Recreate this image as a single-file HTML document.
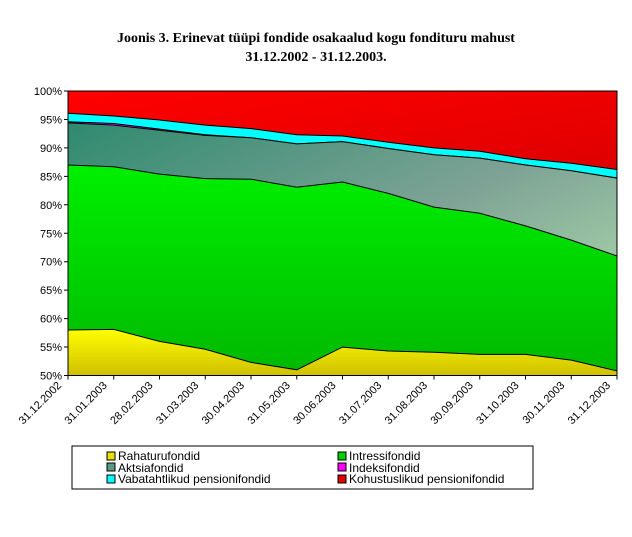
<!DOCTYPE html><html><head><style>body{margin:0;background:#fff}svg{display:block}</style></head><body>
<svg width="632" height="537" xmlns="http://www.w3.org/2000/svg">
<defs>
<linearGradient id="gr" x1="0" y1="0" x2="0.3" y2="1"><stop offset="0" stop-color="#ff0000"/><stop offset="1" stop-color="#c00000"/></linearGradient>
<linearGradient id="gg" x1="0" y1="0" x2="1" y2="1"><stop offset="0" stop-color="#2e8a6e"/><stop offset="0.5" stop-color="#7ea396"/><stop offset="1" stop-color="#b8e8b0"/></linearGradient>
<linearGradient id="gn" x1="0" y1="0" x2="0" y2="1"><stop offset="0" stop-color="#00f000"/><stop offset="1" stop-color="#00b800"/></linearGradient>
<linearGradient id="gy" x1="0" y1="0" x2="0" y2="1"><stop offset="0" stop-color="#ffff00"/><stop offset="1" stop-color="#d0c000"/></linearGradient>
</defs>
<g font-family="Liberation Serif, serif" font-weight="bold" font-size="14" text-anchor="middle">
<text x="316" y="42">Joonis 3. Erinevat tüüpi fondide osakaalud kogu fondituru mahust</text>
<text x="316" y="61">31.12.2002 - 31.12.2003.</text></g>
<g stroke="#000" stroke-width="1">
<rect x="68" y="91" width="549" height="284.5" fill="url(#gr)"/>
<polygon fill="#00ffff" points="68,113.2 113.75,116 159.5,120 205.25,125.1 251,128.6 296.75,134.8 342.5,136 388.25,142.2 434,147.9 479.75,151.3 525.5,158.7 571.25,163.3 617,169.5 617,375.5 68,375.5"/>
<polygon fill="#ff00ff" points="68,121.7 113.75,123.5 159.5,129.1 205.25,134.8 251,137.7 296.75,143.9 342.5,141.6 388.25,148.5 434,154.7 479.75,158.1 525.5,165 571.25,170.7 617,178.1 617,375.5 68,375.5"/>
<polygon fill="url(#gg)" points="68,122.9 113.75,125.1 159.5,130.3 205.25,135.4 251,137.7 296.75,143.9 342.5,141.6 388.25,148.5 434,154.7 479.75,158.1 525.5,165 571.25,170.7 617,178.1 617,375.5 68,375.5"/>
<polygon fill="url(#gn)" points="68,165 113.75,166.7 159.5,174.1 205.25,178.6 251,179.2 296.75,187.2 342.5,182 388.25,193.4 434,207.1 479.75,213.3 525.5,225.9 571.25,240.1 617,256 617,375.5 68,375.5"/>
<polygon fill="url(#gy)" points="68,330 113.75,329.4 159.5,341.4 205.25,349.3 251,362.4 296.75,369.8 342.5,347.1 388.25,351 434,352.2 479.75,354.4 525.5,354.4 571.25,360.1 617,370.9 617,375.5 68,375.5"/>
<rect x="68" y="91" width="549" height="284.5" fill="none"/>
<path d="M64,91H68M64,119.45H68M64,147.9H68M64,176.35H68M64,204.8H68M64,233.25H68M64,261.7H68M64,290.15H68M64,318.6H68M64,347.05H68M64,375.5H68"/>
<path d="M68,375.5v4M113.75,375.5v4M159.5,375.5v4M205.25,375.5v4M251,375.5v4M296.75,375.5v4M342.5,375.5v4M388.25,375.5v4M434,375.5v4M479.75,375.5v4M525.5,375.5v4M571.25,375.5v4M617,375.5v4"/>
</g>
<g font-family="Liberation Sans, sans-serif" font-size="11" text-anchor="end">
<text x="62" y="95">100%</text><text x="62" y="123.5">95%</text><text x="62" y="152">90%</text><text x="62" y="180.4">85%</text><text x="62" y="208.8">80%</text><text x="62" y="237.3">75%</text><text x="62" y="265.7">70%</text><text x="62" y="294.2">65%</text><text x="62" y="322.6">60%</text><text x="62" y="351">55%</text><text x="62" y="379.5">50%</text>
<text transform="translate(62,386) rotate(-45)">31.12.2002</text>
<text transform="translate(107.75,386) rotate(-45)">31.01.2003</text>
<text transform="translate(153.5,386) rotate(-45)">28.02.2003</text>
<text transform="translate(199.25,386) rotate(-45)">31.03.2003</text>
<text transform="translate(245,386) rotate(-45)">30.04.2003</text>
<text transform="translate(290.75,386) rotate(-45)">31.05.2003</text>
<text transform="translate(336.5,386) rotate(-45)">30.06.2003</text>
<text transform="translate(382.25,386) rotate(-45)">31.07.2003</text>
<text transform="translate(428,386) rotate(-45)">31.08.2003</text>
<text transform="translate(473.75,386) rotate(-45)">30.09.2003</text>
<text transform="translate(519.5,386) rotate(-45)">31.10.2003</text>
<text transform="translate(565.25,386) rotate(-45)">30.11.2003</text>
<text transform="translate(611,386) rotate(-45)">31.12.2003</text>
</g>
<rect x="72" y="446" width="461" height="43" fill="#fff" stroke="#000"/>
<g font-family="Liberation Sans, sans-serif" font-size="12">
<rect x="107" y="452" width="8" height="8" fill="#e8e000" stroke="#000"/><text x="118" y="460">Rahaturufondid</text>
<rect x="107" y="463" width="8" height="8" fill="#5a9a86" stroke="#000"/><text x="118" y="472">Aktsiafondid</text>
<rect x="107" y="475" width="8" height="8" fill="#00ffff" stroke="#000"/><text x="118" y="483">Vabatahtlikud pensionifondid</text>
<rect x="338" y="452" width="8" height="8" fill="#00d000" stroke="#000"/><text x="349" y="460">Intressifondid</text>
<rect x="338" y="463" width="8" height="8" fill="#ff00ff" stroke="#000"/><text x="349" y="472">Indeksifondid</text>
<rect x="338" y="475" width="8" height="8" fill="#e00000" stroke="#000"/><text x="349" y="483">Kohustuslikud pensionifondid</text>
</g>
</svg></body></html>
